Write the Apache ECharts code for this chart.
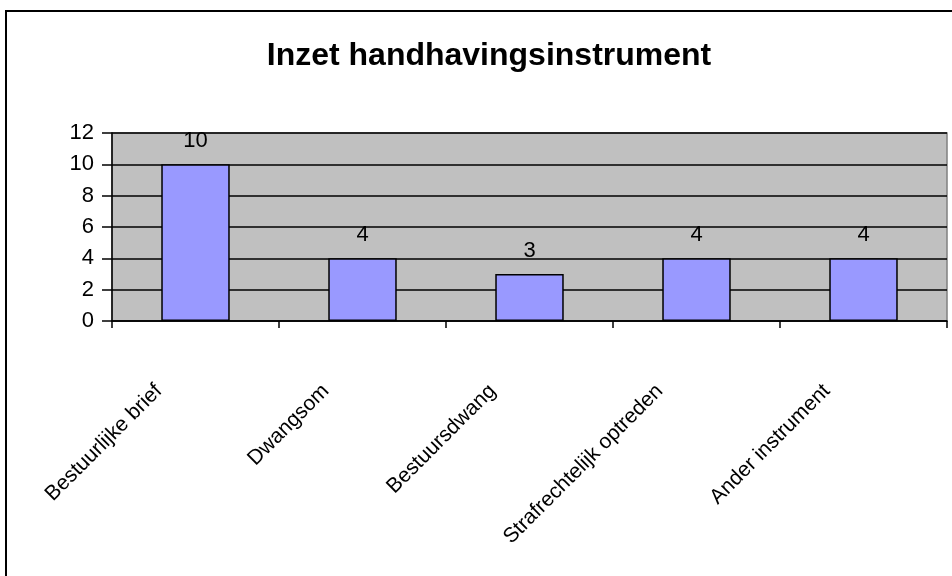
<!DOCTYPE html>
<html>
<head>
<meta charset="utf-8">
<script src="https://cdn.jsdelivr.net/npm/echarts@6/dist/echarts.min.js"></script>
<style>
html, body { margin: 0; padding: 0; background: #fff; }
#chart_container { width: 952px; height: 576px; }
</style>
</head>
<body>
<div id="chart_container"></div>
<script>
var categories = ['Bestuurlijke brief', 'Dwangsom', 'Bestuursdwang', 'Strafrechtelijk optreden', 'Ander instrument'];
var values = [10, 4, 3, 4, 4];
var yTicks = [0, 2, 4, 6, 8, 10, 12];

var dom = document.getElementById("chart_container");
var myChart = echarts.init(dom);

var font = 'Liberation Sans, Arial, sans-serif';

var option = {
    backgroundColor: '#ffffff',
    animation: false,
    title: {
        text: 'Inzet handhavingsinstrument',
        left: 484,
        top: 35,
        textAlign: 'center',
        textStyle: {
            fontFamily: font,
            fontSize: 32,
            fontWeight: 'bold',
            color: '#000'
        }
    },
    graphic: [
        {
            // outer chart frame, runs off the right and bottom edge
            type: 'rect',
            shape: { x: 6, y: 11, width: 1000, height: 620 },
            style: { fill: 'none', stroke: '#000', lineWidth: 2 },
            silent: true
        }
    ],
    grid: {
        left: 112,
        right: 5,
        top: 133,
        bottom: 255,
        show: true,
        backgroundColor: '#c0c0c0',
        borderColor: '#808080',
        borderWidth: 1.5
    },
    xAxis: {
        type: 'category',
        data: categories,
        axisLine: { lineStyle: { color: '#000', width: 1.5 } },
        axisTick: { show: true, length: 7, lineStyle: { color: '#000', width: 1.5 } },
        axisLabel: {
            interval: 0,
            rotate: 45,
            margin: 30,
            padding: [0, 52, 0, 0],
            fontFamily: font,
            fontSize: 21,
            color: '#000'
        }
    },
    yAxis: {
        type: 'value',
        min: yTicks[0],
        max: yTicks[yTicks.length - 1],
        interval: 2,
        axisLine: { show: true, lineStyle: { color: '#000', width: 1.5 } },
        axisTick: { show: true, length: 10, lineStyle: { color: '#000', width: 1.5 } },
        axisLabel: {
            margin: 18,
            fontFamily: font,
            fontSize: 22,
            color: '#000'
        },
        splitLine: { show: true, lineStyle: { color: '#000', width: 1.5 } }
    },
    series: [
        {
            type: 'bar',
            data: values,
            barWidth: '41%',
            itemStyle: {
                color: '#9999ff',
                borderColor: '#000',
                borderWidth: 1.5
            },
            label: {
                show: true,
                position: 'top',
                distance: 12,
                fontFamily: font,
                fontSize: 22,
                color: '#000'
            }
        }
    ]
};

myChart.setOption(option, true);
myChart.resize();
</script>
</body>
</html>
